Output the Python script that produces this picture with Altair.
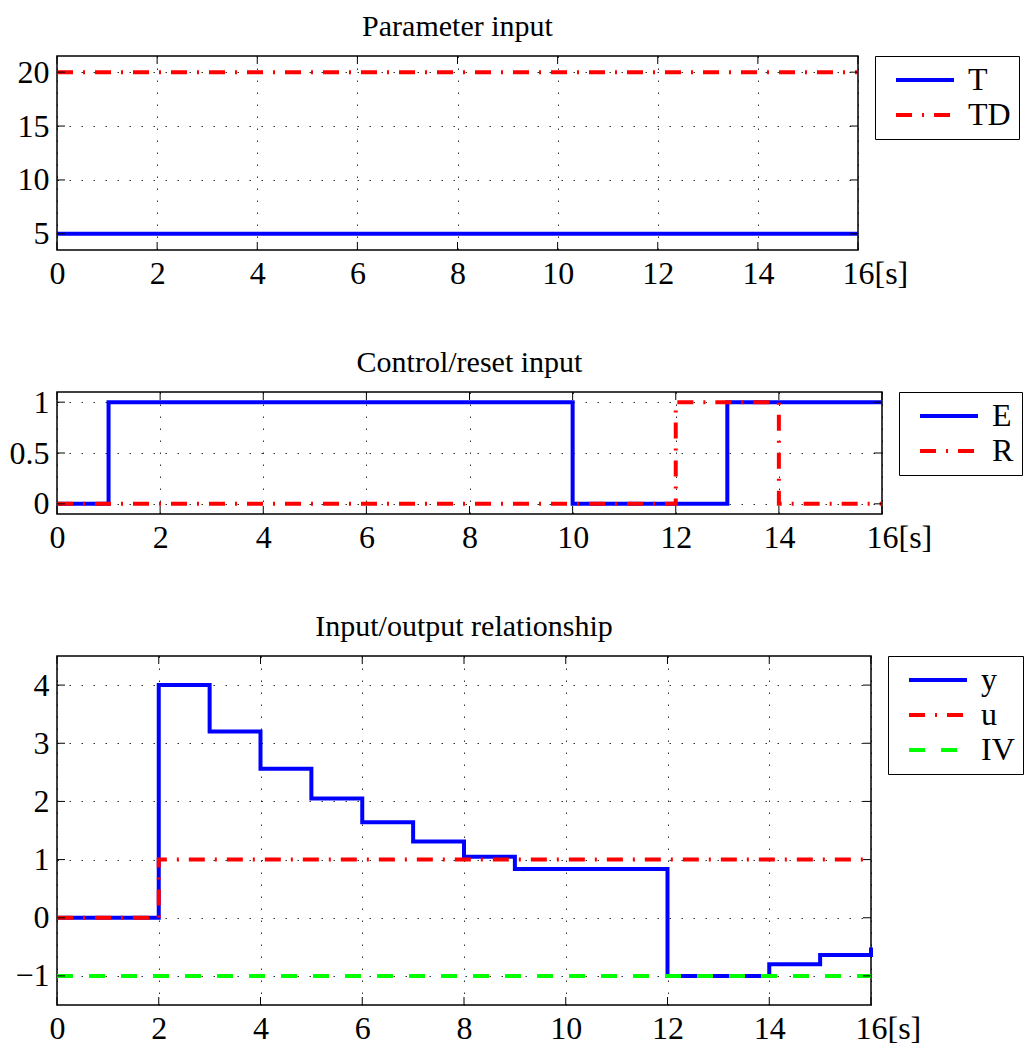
import altair as alt
import pandas as pd

FONT = "Liberation Serif"
BLUE, RED, GREEN = "#0000ff", "#ff0000", "#00ff00"
SOLID = [1, 0]
DASHDOT = [16, 10, 2, 10]
DASHED = [16, 16]

x_ticks = [0, 2, 4, 6, 8, 10, 12, 14, 16]

# ---- Panel 1: Parameter input ----
p1_title = "Parameter input"
p1_names = ["T", "TD"]
T_t = [0, 16]
T_v = [5, 5]
TD_t = [0, 16]
TD_v = [20, 20]
p1_yticks = [5, 10, 15, 20]

# ---- Panel 2: Control/reset input ----
p2_title = "Control/reset input"
p2_names = ["E", "R"]
E_t = [0, 1, 10, 13, 16]
E_v = [0, 1, 0, 1, 1]
R_t = [0, 12, 14, 16]
R_v = [0, 1, 0, 0]
p2_yticks = [0, 0.5, 1]

# ---- Panel 3: Input/output relationship ----
p3_title = "Input/output relationship"
p3_names = ["y", "u", "IV"]
y_t = [0, 2, 3, 4, 5, 6, 7, 8, 9, 12, 14, 15, 16]
y_v = [0, 4, 3.2, 2.56, 2.05, 1.64, 1.31, 1.05, 0.84, -1, -0.8, -0.64, -0.51]
u_t = [0, 2, 16]
u_v = [0, 1, 1]
IV_t = [0, 16]
IV_v = [-1, -1]
p3_yticks = [-1, 0, 1, 2, 3, 4]

FS = 32
TITLE_FS = 30


def make_df(names, ts, vs):
    rows = []
    for n, t, v in zip(names, ts, vs):
        for a, b in zip(t, v):
            rows.append({"s": n, "t": a, "v": b})
    return pd.DataFrame(rows)


def panel(df, names, colors, dashes, title, ydomain, yticks, w, h):
    xs = alt.Scale(domain=[0, 16], nice=False, zero=False)
    ys = alt.Scale(domain=ydomain, nice=False, zero=False)
    grid_style = dict(grid=True, gridDash=[1.5, 10.5], gridColor="#000000",
                      gridOpacity=0.8, gridWidth=1)
    x_axis = alt.Axis(
        values=x_ticks, title=None, ticks=False, domain=False,
        labelFont=FONT, labelFontSize=FS, labelColor="black", labelPadding=8,
        labelFlush=False, labelOverlap=False,
        labelExpr="datum.value == 16 ? '16[s]' : datum.label",
        labelAlign={"condition": {"test": "datum.value == 16", "value": "left"}, "value": "center"},
        labelOffset={"condition": {"test": "datum.value == 16", "value": -16}, "value": 0},
        **grid_style)
    y_axis = alt.Axis(
        values=yticks, title=None, ticks=False, domain=False, format="~g",
        labelFont=FONT, labelFontSize=FS, labelColor="black", labelPadding=8,
        labelOverlap=False, **grid_style)
    legend = alt.Legend(
        title=None, orient="none", legendX=w + 17, legendY=0,
        padding=8, symbolOffset=26, labelOffset=27, rowPadding=3,
        strokeColor="black", fillColor="white", cornerRadius=0,
        labelFont=FONT, labelFontSize=FS, labelColor="black", labelLimit=0,
        symbolType="M-2.07,0H2.07", symbolSize=28 * 28, symbolStrokeWidth=4)

    xdf = pd.DataFrame({"t": x_ticks})
    ydf = pd.DataFrame({"v": yticks})
    tick = dict(color="black", strokeWidth=1)
    top_ticks = alt.Chart(xdf).mark_rule(**tick).encode(
        x=alt.X("t:Q", scale=xs), y=alt.value(0), y2=alt.value(8))
    bottom_ticks = alt.Chart(xdf).mark_rule(**tick).encode(
        x=alt.X("t:Q", scale=xs), y=alt.value(h - 8), y2=alt.value(h))
    left_ticks = alt.Chart(ydf).mark_rule(**tick).encode(
        y=alt.Y("v:Q", scale=ys), x=alt.value(0), x2=alt.value(8))
    right_ticks = alt.Chart(ydf).mark_rule(**tick).encode(
        y=alt.Y("v:Q", scale=ys), x=alt.value(w - 8), x2=alt.value(w))

    lines = alt.Chart(df).mark_line(
        interpolate="step-after", strokeWidth=4, strokeCap="butt"
    ).encode(
        x=alt.X("t:Q", scale=xs, axis=x_axis),
        y=alt.Y("v:Q", scale=ys, axis=y_axis),
        color=alt.Color("s:N", scale=alt.Scale(domain=names, range=colors), legend=legend),
        strokeDash=alt.StrokeDash("s:N", scale=alt.Scale(domain=names, range=dashes), legend=legend),
    )
    heading = alt.Chart(pd.DataFrame({"title": [title]})).mark_text(
        font=FONT, fontSize=TITLE_FS, color="black", align="center", baseline="alphabetic"
    ).encode(text="title:N", x=alt.value(w / 2), y=alt.value(-20))

    return alt.layer(lines, top_ticks, bottom_ticks, left_ticks, right_ticks, heading).properties(
        width=w, height=h)


df1 = make_df(p1_names, [T_t, TD_t], [T_v, TD_v])
df2 = make_df(p2_names, [E_t, R_t], [E_v, R_v])
df3 = make_df(p3_names, [y_t, u_t, IV_t], [y_v, u_v, IV_v])

c1 = panel(df1, p1_names, [BLUE, RED], [SOLID, DASHDOT], p1_title,
           [3.5, 21.5], p1_yticks, 801, 194)
c2 = panel(df2, p2_names, [BLUE, RED], [SOLID, DASHDOT], p2_title,
           [-0.1, 1.1], p2_yticks, 825, 122)
c3 = panel(df3, p3_names, [BLUE, RED, GREEN], [SOLID, DASHDOT, DASHED], p3_title,
           [-1.5, 4.5], p3_yticks, 814, 349)

chart = alt.vconcat(c1, c2, c3, spacing=57).resolve_scale(
    color="independent", strokeDash="independent"
).properties(
    padding={"left": 0, "top": 3, "right": 0, "bottom": 0},
    background="white",
).configure_view(stroke="black", strokeWidth=1.5)

chart.save("out.html", embed_options={"renderer": "svg", "actions": False})
